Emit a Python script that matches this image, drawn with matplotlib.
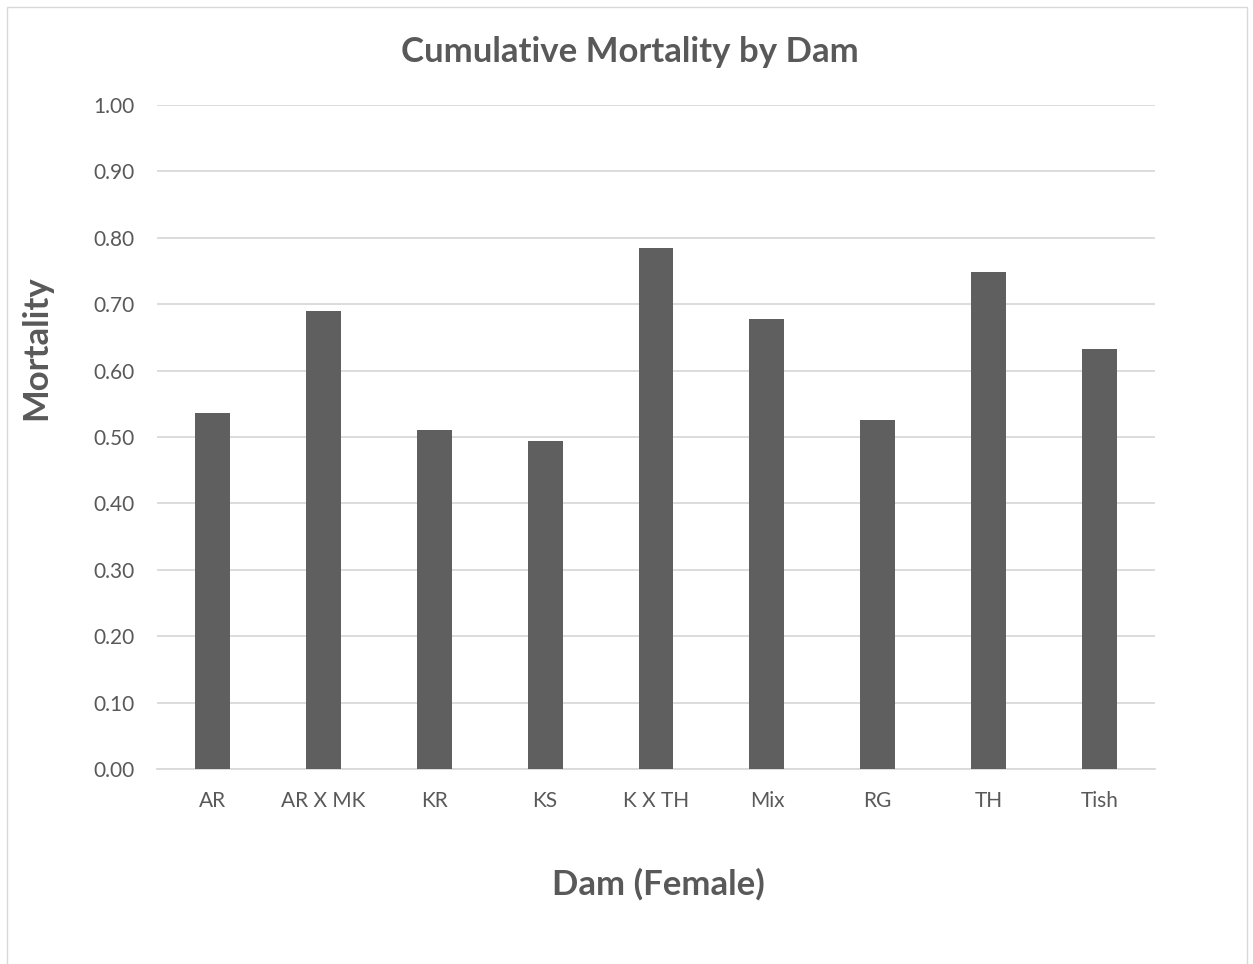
import matplotlib.pyplot as plt
from matplotlib.patches import Rectangle

dams = ['AR', 'AR X MK', 'KR', 'KS', 'K X TH', 'Mix', 'RG', 'TH', 'Tish']
mortality = [0.536, 0.689, 0.510, 0.494, 0.785, 0.677, 0.526, 0.749, 0.633]
yticks = [0.0, 0.1, 0.2, 0.3, 0.4, 0.5, 0.6, 0.7, 0.8, 0.9, 1.0]

text_col = '#595959'
plt.rcParams['font.family'] = ['Lato', 'DejaVu Sans']

fig = plt.figure(figsize=(12.53, 9.64), dpi=100)
ax = fig.add_axes([0.1253, 0.2023, 0.7965, 0.6888])

ax.bar(range(len(dams)), mortality, width=0.315, color='#5f5f5f', zorder=3)

ax.set_xlim(-0.5, len(dams) - 0.5)
ax.set_ylim(0, 1.0)
ax.set_yticks(yticks)
ax.set_yticklabels([f'{v:.2f}' for v in yticks])
ax.set_xticks(range(len(dams)))
ax.set_xticklabels(dams)
ax.tick_params(length=0, labelsize=15, colors=text_col)
ax.tick_params(axis='y', pad=16)
ax.tick_params(axis='x', pad=16)
ax.grid(axis='y', color='#d9d9d9', linewidth=1.3, zorder=0)
for s in ['top', 'right', 'left']:
    ax.spines[s].set_visible(False)
ax.spines['bottom'].set_color('#d9d9d9')
ax.spines['bottom'].set_linewidth(1.3)

# titles in figure pixels
fig.text(630 / 1253, 1 - 52 / 964, 'Cumulative Mortality by Dam', fontsize=25,
         fontweight='bold', color=text_col, ha='center', va='center')
fig.text(36 / 1253, 1 - 348 / 964, 'Mortality', fontsize=25, fontweight='bold',
         color=text_col, ha='center', va='center', rotation=90)
fig.text(658 / 1253, 1 - 884 / 964, 'Dam (Female)', fontsize=25, fontweight='bold',
         color=text_col, ha='center', va='center')

# light frame around the chart
fig.add_artist(Rectangle((7 / 1253, -0.01), 1240 / 1253, 1.0 - 7 / 964 + 0.01,
                         transform=fig.transFigure, fill=False,
                         edgecolor='#d9d9d9', linewidth=1.0))

fig.savefig('out.png', dpi=100)
